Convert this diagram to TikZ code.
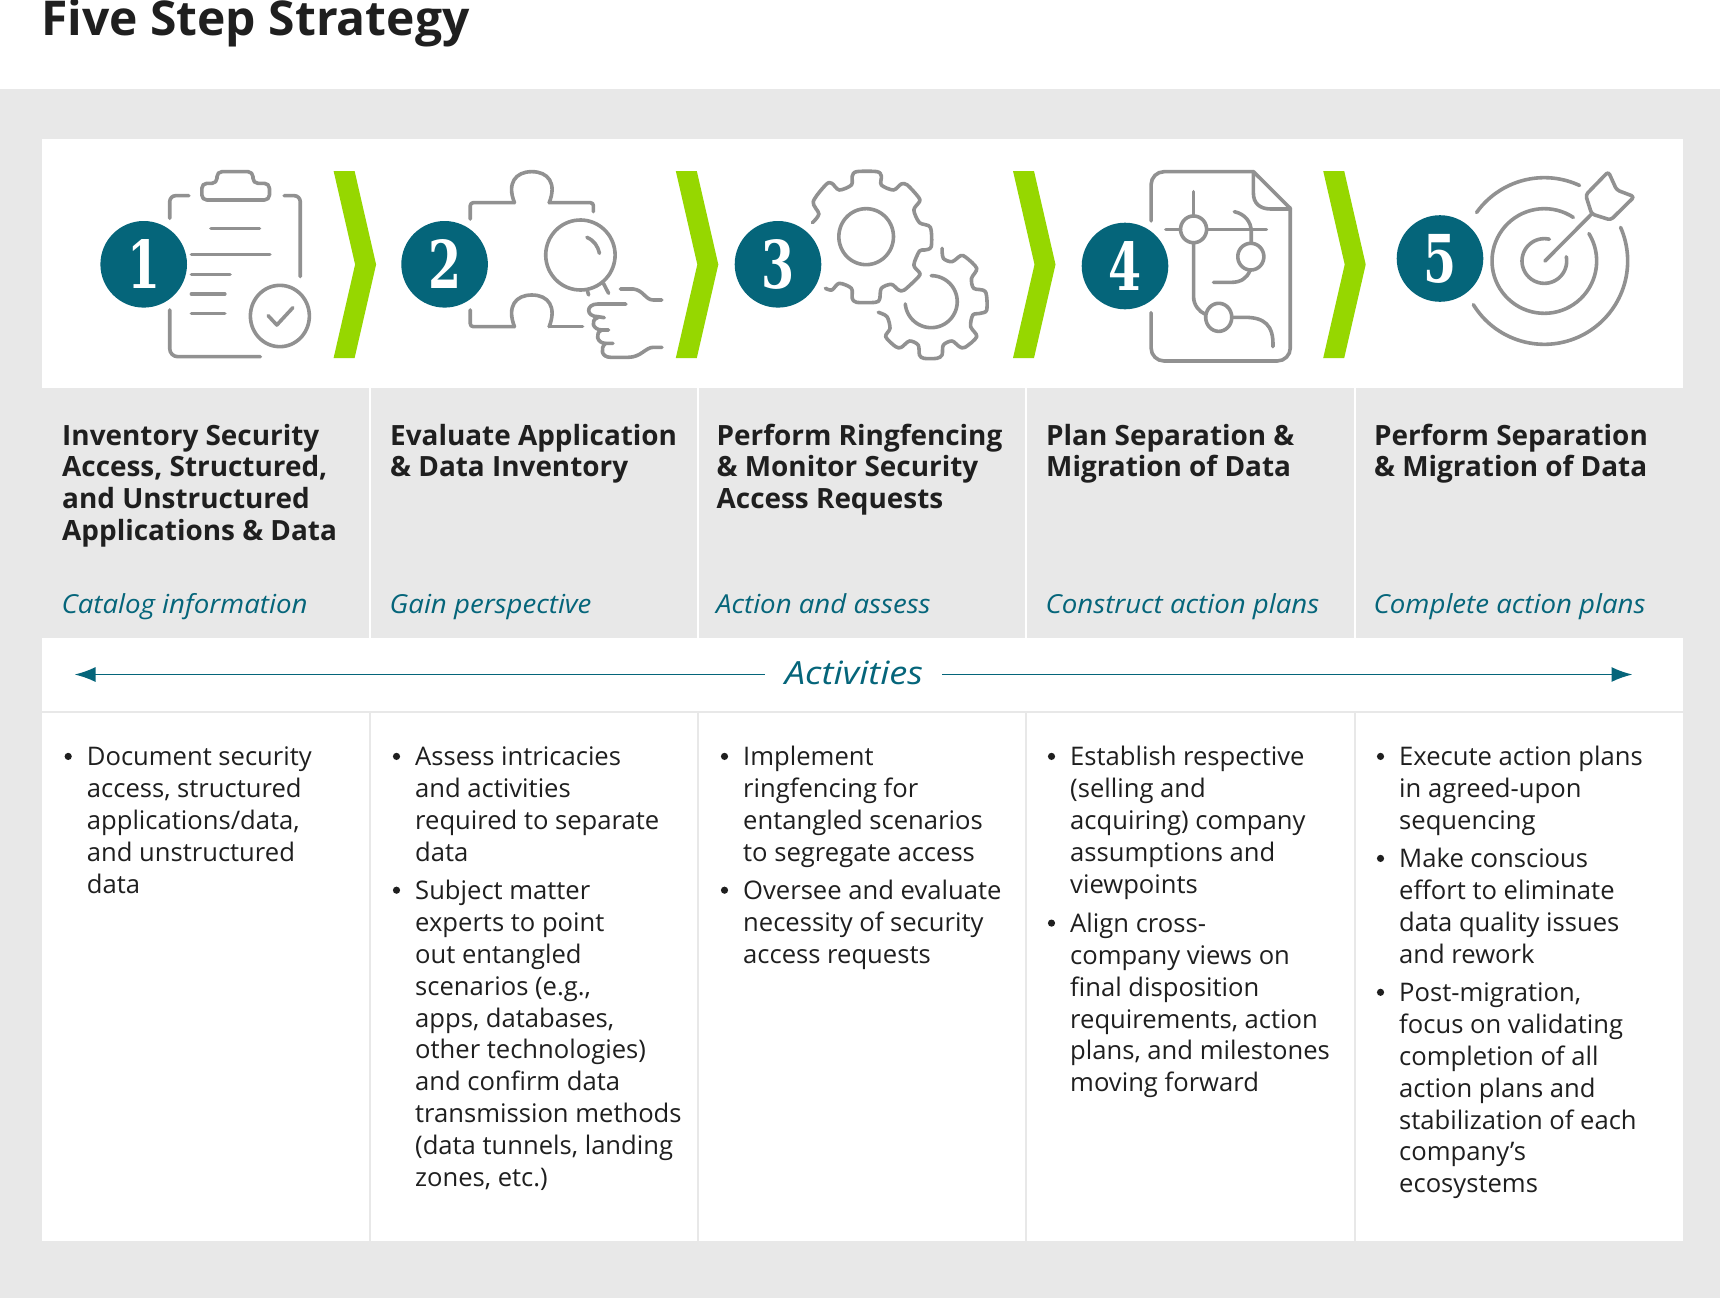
\documentclass[tikz,border=0pt]{standalone}
\usepackage{fontspec}
\usetikzlibrary{arrows.meta}
\setmainfont{Open Sans}
\newfontfamily\numfont[FakeStretch=0.72]{DejaVu Serif}
\definecolor{teal}{HTML}{05657A}
\definecolor{chev}{HTML}{96D700}
\definecolor{icong}{HTML}{919191}
\definecolor{panelg}{HTML}{E8E8E8}
\definecolor{ink}{HTML}{1F1F1F}
\newcommand\ArcP[6]{plot[domain=#5:#6,samples=70,smooth] ({#1+#3*cos(\x)},{#2+#4*sin(\x)})}
\tikzset{
 icon/.style={draw=icong,line width=3.6pt,line cap=round,line join=round},
 zoomA/.style={x=0.43367pt,y=-0.33333pt},
 zoomB/.style={x=0.33333pt,y=-0.33333pt},
 numdisc/.style={circle,fill=teal,minimum size=86.6pt,inner sep=0pt,text=white,font=\numfont\bfseries\fontsize{66}{66}\selectfont},
 headtxt/.style={anchor=north west,inner sep=0pt,align=left,text=ink,font=\fontsize{27.9}{31.8}\selectfont\bfseries},
 subtxt/.style={anchor=base west,inner sep=0pt,text=teal,font=\fontsize{26.2}{30}\selectfont\itshape\addfontfeature{FakeStretch=1.055}},
 bodytxt/.style={anchor=north west,inner sep=0pt,align=left,text=ink,font=\fontsize{25.6}{31.85}\selectfont},
 gridw/.style={draw=white,line width=2pt},
 gridg/.style={draw=panelg,line width=1.6pt},
}
\newcommand\chevron[1]{\fill[chev] (#1,171) -- ++(21,0) -- ++(21.5,93.5) -- ++(-21.5,93.5) -- ++(-21,0) -- ++(21.5,-93.5) -- cycle;}
\newcommand\bitem[4]{%
 \fill[ink] (#2-18.5,{#3-8.6}) circle (3.6pt);
 \node[bodytxt] (#1) at (#2,{#3-21.7}) {\strut #4};}
\begin{document}
\begin{tikzpicture}[x=1pt,y=-1pt]
\useasboundingbox (0,0) rectangle (1720,1298);
\fill[white] (0,0) rectangle (1720,1298);
\fill[panelg] (0,89) rectangle (1720,1298);
\fill[white] (42,139) rectangle (1683,387.5);
\fill[white] (42,638) rectangle (1683,711);
\fill[white] (42,713) rectangle (1683,1241);
\node[anchor=base west,inner sep=0pt,text=ink,font=\fontsize{48}{50}\selectfont\bfseries] (title) at (41,36) {Five Step Strategy};
% column rules
\foreach \cx in {370,698,1026,1355}{
 \draw[gridw] (\cx,387.5) -- (\cx,638);
 \draw[gridg] (\cx,713) -- (\cx,1241);
}
% chevrons
\chevron{333.6}\chevron{675.8}\chevron{1013}\chevron{1323.2}
% discs
\node[numdisc] (n1) at (143.7,264.3) {1};
\node[numdisc] (n2) at (444.6,264.3) {2};
\node[numdisc] (n3) at (778,264.3) {3};
\node[numdisc] (n4) at (1125,266) {4};
\node[numdisc] (n5) at (1440,258.5) {5};
% icon 1
\begin{scope}[shift={(60,140)},zoomA]
\draw[icon,rounded corners=5pt] (327,180) -- (327,130) -- (362,130) -- (362,95) -- (445,95) -- (445,130) -- (483,130) -- (483,180) -- cycle;
\draw[icon,rounded corners=6pt] (297,167) -- (253,167) -- (253,235);
\draw[icon,rounded corners=6pt] (517,167) -- (554,167) -- (554,410);
\draw[icon,rounded corners=8pt] (253,510) -- (253,650) -- (462,650);
\draw[icon] (348,265) -- (460,265);
\draw[icon] (303,343) -- (484,343);
\draw[icon] (303,403) -- (392,403);
\draw[icon] (303,462) -- (380,462);
\draw[icon] (303,521) -- (380,521);
\draw[icon] \ArcP{507}{528}{68}{92}{0}{360};
\draw[icon] (480,527) -- (500,555) -- (537,503);
\end{scope}
% icon 2
\begin{scope}[shift={(60,140)},zoomA]
\draw[icon,rounded corners=3pt] (946,237) -- (946,188) -- (1048,188);
\draw[icon] (1048,188) .. controls (1030,130) and (1050,95) .. (1088,95) .. controls (1126,95) and (1146,130) .. (1128,188);
\draw[icon,rounded corners=3pt] (1128,188) -- (1230,188) -- (1230,215);
\draw[icon,rounded corners=3pt] (946,510) -- (946,560) -- (1048,560);
\draw[icon] (1048,560) .. controls (1030,500) and (1050,465) .. (1088,465) .. controls (1126,465) and (1146,500) .. (1128,560);
\draw[icon] (1128,560) -- (1205,560);
\draw[icon] \ArcP{1200}{345}{80}{105}{0}{360};
\draw[icon] (1215,292) .. controls (1232,302) and (1240,318) .. (1244,340);
\draw[icon] (1216,452) -- (1219,465);
\draw[icon] (1253,430) -- (1265,460);
\draw[icon] (1292,447) -- (1322,447) .. controls (1345,450) and (1350,480) .. (1368,480) -- (1388,480);
\draw[icon] (1305,492) -- (1240,492) .. controls (1212,492) and (1212,530) .. (1240,530) -- (1255,533);
\draw[icon] (1240,533) .. controls (1222,540) and (1228,570) .. (1250,570) -- (1265,570);
\draw[icon] (1250,570) .. controls (1232,578) and (1238,610) .. (1258,610) -- (1275,610);
\draw[icon] (1258,610) .. controls (1245,625) and (1248,652) .. (1270,652) -- (1310,652) .. controls (1340,652) and (1350,622) .. (1368,622) -- (1388,622);
\end{scope}
% icon 3
\begin{scope}[shift={(720,140)},zoomA]
\draw[icon] plot[smooth,tension=0.5] coordinates {(213,248) (228,222) (215,185) (245,133) (258,130) (275,150) (303,135) (305,108) (315,95) (362,95) (372,108) (372,135) (400,150) (418,132) (432,135) (458,172) (460,185) (447,210) (460,248) (485,262) (487,320) (472,330) (460,333) (447,375) (460,398) (458,410) (425,450) (412,450) (395,433) (372,445) (368,478) (358,487) (315,487) (305,475) (303,445) (275,430) (258,450) (243,445)};
\draw[icon] \ArcP{337}{290}{63}{84}{0}{360};
\draw[icon] plot[smooth,tension=0.5] coordinates {(512,325) (515,355) (535,365) (555,347) (567,352) (592,385) (580,415) (585,445) (612,455) (615,510) (600,520) (583,525) (578,560) (592,590) (565,622) (552,620) (535,603) (515,615) (512,645) (500,655) (470,655) (460,645) (457,615) (437,603) (418,622) (405,620) (382,590) (392,565) (385,530) (365,517)};
\draw[icon] \ArcP{487}{485}{60}{78}{-90}{175};
\end{scope}
% icon 4
\begin{scope}[shift={(720,140)},zoomA]
\draw[icon,rounded corners=13pt] (994,243) -- (994,95) -- (1230,95);
\draw[icon] (1230,95) -- (1315,205);
\draw[icon,rounded corners=13pt] (1315,205) -- (1315,663) -- (994,663) -- (994,518);
\draw[icon] (1230,95) -- (1230,160) .. controls (1230,190) and (1245,207) .. (1270,207) -- (1315,207);
\draw[icon] \ArcP{1092}{268}{30}{40}{0}{360};
\draw[icon] \ArcP{1224}{350}{30}{40}{0}{360};
\draw[icon] \ArcP{1150}{532}{30}{42}{0}{360};
\draw[icon] (1092,155) -- (1092,228);
\draw[icon] (1028,268) -- (1062,268);
\draw[icon] (1122,268) -- (1260,268);
\draw[icon] (1092,308) -- (1092,470) .. controls (1092,495) and (1105,515) .. (1118,522);
\draw[icon] (1186,215) .. controls (1210,222) and (1225,245) .. (1225,275) -- (1225,310);
\draw[icon] (1222,392) .. controls (1215,415) and (1200,427) .. (1180,427) -- (1138,427);
\draw[icon] (1180,532) -- (1210,532) .. controls (1255,532) and (1277,555) .. (1275,620);
\end{scope}
% icon 5
\begin{scope}[shift={(1300,140)},zoomB]
\draw[icon] \ArcP{733}{363}{250}{250}{215.6}{295};
\draw[icon] \ArcP{733}{363}{250}{250}{-23.8}{148.4};
\draw[icon] \ArcP{733}{363}{157}{157}{-31.6}{303.6};
\draw[icon] \ArcP{733}{363}{67}{67}{-11}{283};
\draw[icon] (735,363) -- (875,222);
\draw[icon,rounded corners=3pt] (857,165) -- (925,95) -- (950,150) -- (1003,170) -- (932,240) -- (875,222) -- cycle;
\end{scope}
% headings
\newcommand\headat[4]{\node[headtxt] (#1) at (#2,{444.5-21.9}) {\strut #3};\node[subtxt] (#1sub) at (#2-0.6,613) {#4};}
\headat{h1}{62}{Inventory Security\\Access, Structured,\\and Unstructured\\Applications \& Data}{Catalog information}
\headat{h2}{390}{Evaluate Application\\\& Data Inventory}{Gain perspective}
\headat{h3}{716.5}{Perform Ringfencing\\\& Monitor Security\\Access Requests}{Action and assess}
\headat{h4}{1046}{Plan Separation \&\\Migration of Data}{Construct action plans}
\headat{h5}{1374}{Perform Separation\\\& Migration of Data}{Complete action plans}
% activities band
\node[inner sep=0pt,text=teal,font=\fontsize{32}{34}\selectfont\itshape\addfontfeature{FakeStretch=1.13},anchor=base] (act) at (854,684) {Activities};
\coordinate (actL) at (74.5,674.5);
\coordinate (actR) at (1632.5,674.5);
\draw[teal,line width=1.8pt,-{Latex[length=21pt,width=15pt]}] (764.6,674.5) -- (actL);
\draw[teal,line width=1.8pt,-{Latex[length=21pt,width=15pt]}] (942,674.5) -- (actR);
% body
\bitem{b1a}{86.7}{765}{Document security\\access, structured\\applications/data,\\and unstructured\\data}
\bitem{b2a}{415}{765}{Assess intricacies\\and activities\\required to separate\\data}
\bitem{b2b}{415}{898.8}{Subject matter\\experts to point\\out entangled\\scenarios (e.g.,\\apps, databases,\\other technologies)\\and confirm data\\transmission methods\\(data tunnels, landing\\zones, etc.)}
\bitem{b3a}{743}{765}{Implement\\ringfencing for\\entangled scenarios\\to segregate access}
\bitem{b3b}{743}{898.8}{Oversee and evaluate\\necessity of security\\access requests}
\bitem{b4a}{1070}{765}{Establish respective\\(selling and\\acquiring) company\\assumptions and\\viewpoints}
\bitem{b4b}{1070}{931.7}{Align cross-\\company views on\\final disposition\\requirements, action\\plans, and milestones\\moving forward}
\bitem{b5a}{1399}{765}{Execute action plans\\in agreed-upon\\sequencing}
\bitem{b5b}{1399}{867}{Make conscious\\effort to eliminate\\data quality issues\\and rework}
\bitem{b5c}{1399}{1000.9}{Post-migration,\\focus on validating\\completion of all\\action plans and\\stabilization of each\\company’s\\ecosystems}
\end{tikzpicture}
\end{document}
